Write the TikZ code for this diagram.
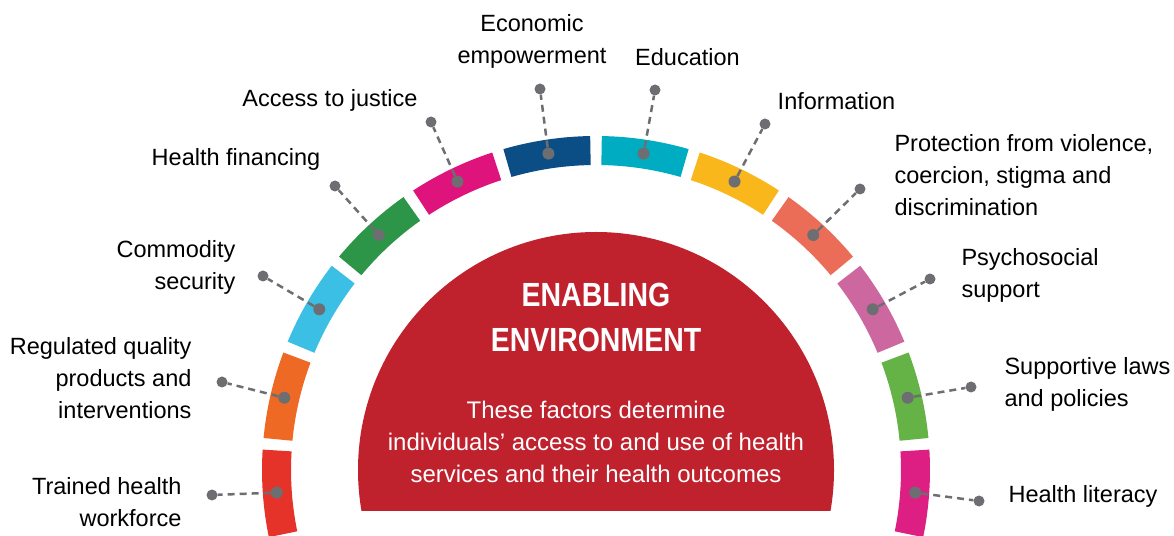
\documentclass[tikz,border=0pt]{standalone}
\usepackage{fontspec}
\setmainfont{Liberation Sans}
\newfontfamily\condfont{Liberation Sans}[FakeStretch=0.85]

\definecolor{segA}{HTML}{E63329}
\definecolor{segB}{HTML}{EE6A24}
\definecolor{segC}{HTML}{3CBFE4}
\definecolor{segD}{HTML}{2C9548}
\definecolor{segE}{HTML}{DE137C}
\definecolor{segF}{HTML}{0B4D85}
\definecolor{segG}{HTML}{00ACC1}
\definecolor{segH}{HTML}{F9B71B}
\definecolor{segI}{HTML}{EB6D58}
\definecolor{segJ}{HTML}{CD67A0}
\definecolor{segK}{HTML}{65B346}
\definecolor{segL}{HTML}{DD1F84}
\definecolor{enred}{HTML}{BF212D}
\definecolor{dotgray}{HTML}{6D6E71}

\begin{document}
\begin{tikzpicture}[x=1pt, y=1pt,
    lead/.style={draw=dotgray, line width=2.5pt, dash pattern=on 7pt off 5pt},
    pin/.style={circle, fill=dotgray, inner sep=0pt, minimum size=11pt},
    lbl/.style={font=\fontsize{23.5}{32}\selectfont, text=black}]

    \useasboundingbox (0,0) rectangle (1174,535);
    \clip (0,0) rectangle (1174,535);
    \coordinate (ctr) at (596,65);

    % ring of twelve factors
    \foreach \c [count=\i] in {segA,segB,segC,segD,segE,segF,segG,segH,segI,segJ,segK,segL}
    {
        \pgfmathsetmacro{\m}{192.6-17.1*(\i-0.5)}
        \pgfmathsetmacro{\a}{\m+7.55}
        \pgfmathsetmacro{\b}{\m-7.55}
        \fill[\c, shift={(ctr)}] (\a:334) arc[start angle=\a, end angle=\b, radius=334]
            -- (\b:305) arc[start angle=\b, end angle=\a, radius=305] -- cycle;
        \coordinate (in\i) at ([shift={(\m:320)}]ctr);
    }

    % centre
    \begin{scope}
        \clip (300,25) rectangle (900,320);
        \fill[enred] (ctr) circle[radius=238];
    \end{scope}
    \node[font=\condfont\bfseries\fontsize{33.5}{45}\selectfont, text=white, align=center]
        (title) at (596,217.5) {ENABLING\\ENVIRONMENT};
    \node[font=\fontsize{24}{32}\selectfont, text=white, align=center]
        (sub) at (596,93) {These factors determine\\individuals’ access to and use of health\\services and their health outcomes};

    % labels
    \node[lbl, anchor=east, align=right] (trained) at (185,33) {Trained health\\workforce};
    \node[lbl, anchor=east, align=right] (quality) at (195,157) {Regulated quality\\products and\\interventions};
    \node[lbl, anchor=east, align=right] (commodity) at (239,267.5) {Commodity\\security};
    \node[lbl] (financing) at (236,376) {Health financing};
    \node[lbl] (justice) at (330,435) {Access to justice};
    \node[lbl, align=center] (economic) at (532,494) {Economic\\empowerment};
    \node[lbl] (education) at (687.5,478) {Education};
    \node[lbl] (information) at (836.5,434) {Information};
    \node[lbl, anchor=west, align=left] (protection) at (891,360) {Protection from violence,\\coercion, stigma and\\discrimination};
    \node[lbl, anchor=west, align=left] (psycho) at (958,260) {Psychosocial\\support};
    \node[lbl, anchor=west, align=left] (laws) at (1001,151) {Supportive laws\\and policies};
    \node[lbl, anchor=west] (literacy) at (1005,39) {Health literacy};

    % leaders
    \foreach \i/\ox/\oy in {1/212/40, 2/222/153, 3/263/259, 4/335/349, 5/431/413, 6/540/446,
                            7/655/445, 8/765/411, 9/860/346, 10/930/256, 11/971/148, 12/979/34}
    {
        \node[pin] (out\i) at (\ox,\oy) {};
        \node[pin, minimum size=12pt] (dot\i) at (in\i) {};
        \draw[lead] (dot\i) -- (out\i);
    }
\end{tikzpicture}
\end{document}
